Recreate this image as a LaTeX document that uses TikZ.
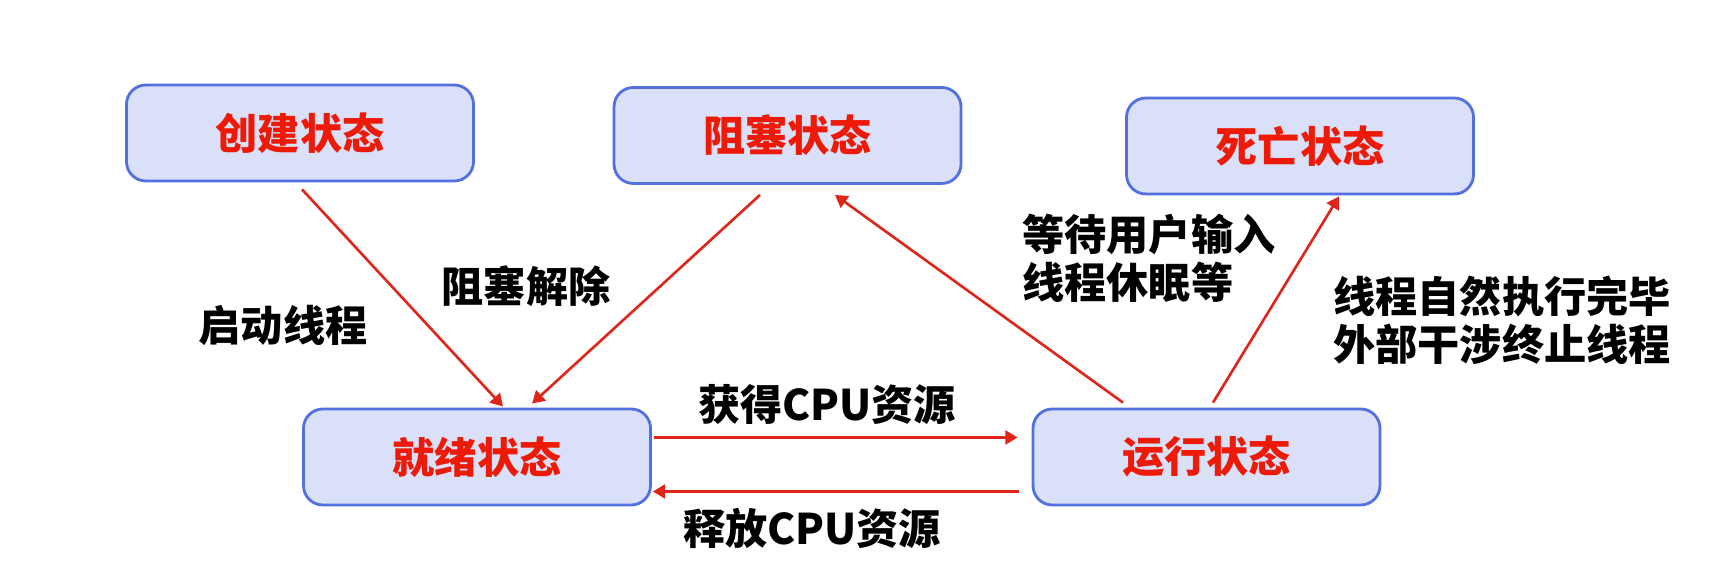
\documentclass[tikz,border=0pt]{standalone}
\usepackage{fontspec}
\setmainfont{Noto Sans CJK SC}
\usetikzlibrary{arrows.meta}
\definecolor{boxfill}{RGB}{218,224,248}
\definecolor{boxline}{RGB}{82,112,222}
\definecolor{statered}{RGB}{238,26,8}
\definecolor{arrowred}{RGB}{224,38,26}

\begin{document}
\begin{tikzpicture}[>={Triangle[length=7pt,width=8pt]},
    state/.style={draw=boxline,line width=1.6pt,fill=boxfill,rounded corners=11pt,
      minimum width=6.94cm,minimum height=1.92cm,text=statered,
      font=\fontsize{24}{28}\selectfont\bfseries},
    lbl/.style={font=\fontsize{24}{27.5}\selectfont\bfseries,align=left,inner sep=0pt},
    trans/.style={->,draw=arrowred,line width=1.5pt}]
    \useasboundingbox (0,0) rectangle (34.58,11.64);

    \node[state] (create) at (6.00,8.98) {创建状态};
    \node[state] (block) at (15.75,8.93) {阻塞状态};
    \node[state] (dead) at (26.00,8.72) {死亡状态};
    \node[state] (ready) at (9.54,2.50) {就绪状态};
    \node[state] (run) at (24.13,2.50) {运行状态};

    \draw[trans] ([xshift=0.04cm,yshift=-0.14cm]create.south) -- ([xshift=0.52cm,yshift=0.02cm]ready.north);
    \draw[trans] ([xshift=-0.55cm,yshift=-0.2cm]block.south) -- ([xshift=1.10cm,yshift=0.08cm]ready.north);
    \draw[trans] ([xshift=-1.67cm,yshift=0.1cm]run.north) -- ([xshift=0.95cm,yshift=-0.2cm]block.south);
    \draw[trans] ([xshift=0.13cm,yshift=0.1cm]run.north) -- ([xshift=0.78cm,yshift=-0.02cm]dead.south);
    \draw[trans] ([xshift=0.04cm,yshift=0.39cm]ready.east) -- ([xshift=-0.28cm,yshift=0.39cm]run.west);
    \draw[trans] ([xshift=-0.26cm,yshift=-0.69cm]run.west) -- ([xshift=0.02cm,yshift=-0.69cm]ready.east);

    \node[lbl] (start) at (5.66,5.14) {启动线程};
    \node[lbl] (unblock) at (10.52,5.92) {阻塞解除};
    \node[lbl,anchor=west] (wait) at (20.44,6.48) {等待用户输入\\线程休眠等};
    \node[lbl] (finish) at (30.04,5.24) {线程自然执行完毕\\外部干涉终止线程};
    \node[lbl] (getcpu) at (16.54,3.54) {获得CPU资源};
    \node[lbl] (freecpu) at (16.24,1.08) {释放CPU资源};
\end{tikzpicture}
\end{document}
